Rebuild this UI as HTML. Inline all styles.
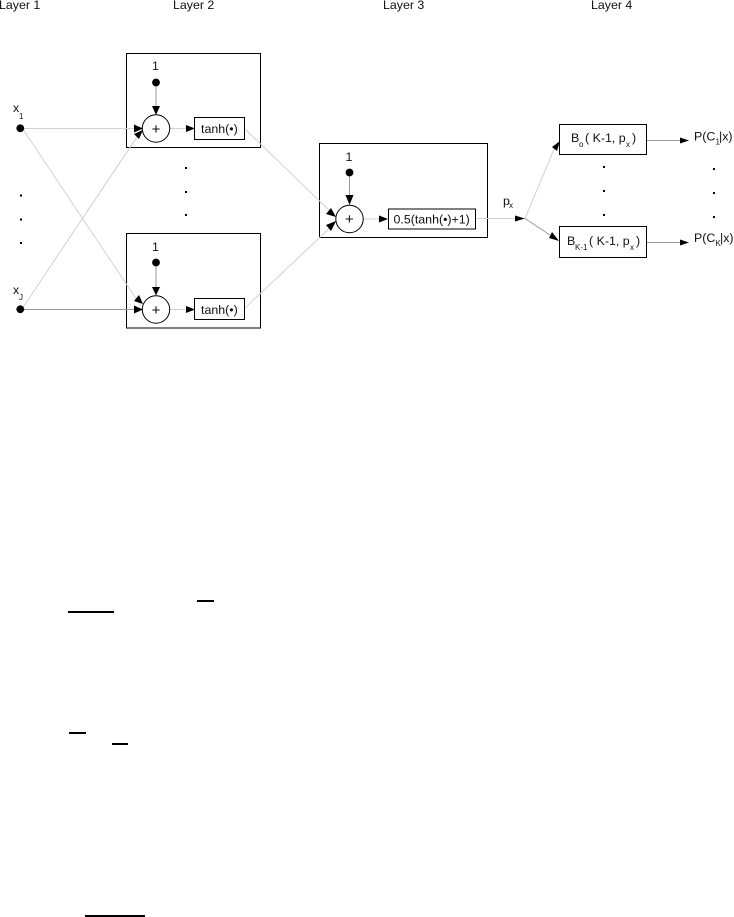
<!DOCTYPE html>
<html><head><meta charset="utf-8"><style>
html,body{margin:0;padding:0;background:#fff}
svg{display:block}
text{font-family:"Liberation Sans",sans-serif;font-size:12.4px;fill:#111}
.s{font-size:8px}
.p{font-size:15px}
.g{stroke:#d2d2d2;stroke-width:1;fill:none}
.d{stroke:#999;stroke-width:1;fill:none}
.b{stroke:#000;stroke-width:1;fill:#fff}
</style></head><body>
<svg width="734" height="917" viewBox="0 0 734 917" xmlns="http://www.w3.org/2000/svg">
<text x="-1" y="9">Layer 1</text><text x="173" y="9">Layer 2</text><text x="383" y="9">Layer 3</text><text x="591" y="9">Layer 4</text>

<rect class="b" x="126.5" y="53.5" width="134" height="94"/>
<rect class="b" x="126.5" y="233.5" width="134" height="94.5"/>
<rect class="b" x="319.5" y="143.5" width="168" height="94"/>

<path class="g" d="M20 128.5H135M22.5 128.5L141 306"/>
<path class="d" d="M20 309.5H135"/>
<path class="g" d="M22 309L143 128"/>
<path class="g" d="M170 128.5H186M170 309.5H186M364 219H380M476 218.5H515"/>
<path class="g" d="M245 129L332 213M245 308L332 226"/>
<path class="d" d="M156 83V108M156 263V289M349.5 172V196"/>
<path class="g" d="M525 218.5L555 147"/>
<path class="d" d="M525 218.5L550 235"/>
<path class="d" d="M647 140.5H680M647 242.5H680"/>

<g fill="#000">
<path d="M134 124.5L143 128.5L134 132.5Z"/>
<path d="M134 305.5L143 309.5L134 313.5Z"/>
<path d="M186 125L195 128.5L186 132Z"/>
<path d="M186 306L195 309.5L186 313Z"/>
<path d="M152 106L156 115L160 106Z"/>
<path d="M152 287L156 295.5L160 287Z"/>
<path d="M345.5 195L349.5 205L353.5 195Z"/>
<path d="M379 215.5L388 219L379 222.5Z"/>
<path d="M515 215.5L525 218.5L515 221.5Z"/>
<path d="M680 137.5L689 140.5L680 143.5Z"/>
<path d="M680 239.5L689 242.5L680 245.5Z"/>
<path d="M143 130L134 134L139 139Z"/>
<path d="M143 304L134 301L139 295Z"/>
<path d="M336 217L326 214L331 208Z"/>
<path d="M336 221L326 225L331 231Z"/>
<path d="M560 141L552 147L557 151Z"/>
<path d="M559 241L549 238L552 232Z"/>
<circle cx="20.3" cy="128.3" r="3.9"/><circle cx="20.3" cy="309.3" r="3.9"/>
<circle cx="156" cy="82.5" r="3.9"/><circle cx="156" cy="262.5" r="3.9"/><circle cx="349.5" cy="172.5" r="3.9"/>
<g>
<rect x="20" y="194.5" width="2" height="2"/><rect x="20" y="218.5" width="2" height="2"/><rect x="20" y="242" width="2" height="2"/>
<rect x="185" y="167" width="2" height="2"/><rect x="185" y="191" width="2" height="2"/><rect x="185" y="214" width="2" height="2"/>
<rect x="603" y="166" width="2" height="2"/><rect x="603" y="190" width="2" height="2"/><rect x="603" y="214" width="2" height="2"/>
<rect x="713" y="168" width="2" height="2"/><rect x="713" y="192" width="2" height="2"/><rect x="713" y="216" width="2" height="2"/>
</g>
<rect x="68" y="611" width="46" height="2"/><rect x="197" y="600" width="17" height="2"/>
<rect x="69" y="732" width="17" height="2"/><rect x="112" y="743" width="16" height="2"/>
<rect x="85" y="915" width="60" height="2"/>
</g>

<circle class="b" cx="156" cy="128.5" r="13.7"/><circle class="b" cx="156" cy="309.5" r="13.7"/><circle class="b" cx="349.5" cy="219" r="13.7"/>
<rect class="b" x="194.5" y="117.5" width="50" height="22"/>
<rect class="b" x="194.5" y="298.5" width="50" height="21"/>
<rect class="b" x="388.5" y="209" width="87" height="20"/>
<rect class="b" x="559.5" y="124.5" width="87" height="30"/>
<rect class="b" x="559.5" y="226.5" width="87" height="31"/>

<text x="152" y="70">1</text><text x="152" y="251">1</text><text x="345.5" y="161">1</text>
<text class="p" x="151.6" y="134">+</text><text class="p" x="151.6" y="315">+</text><text class="p" x="345" y="224">+</text>
<text x="201" y="133">tanh(•)</text><text x="201" y="314">tanh(•)</text>
<text x="393.5" y="223.5">0.5(tanh(•)+1)</text>
<text x="13" y="112">x</text><text class="s" x="19" y="119">1</text>
<text x="13" y="294">x</text><text class="s" x="19" y="300">J</text>
<text x="503" y="205">p</text><text class="s" x="509" y="208">x</text>
<text x="571" y="142">B</text><text class="s" x="579" y="147">o</text><text x="585" y="142">( K-1, p</text><text class="s" x="626" y="147">x</text><text x="632" y="142">)</text>
<text x="567" y="245">B</text><text class="s" x="575" y="250">K-1</text><text x="589" y="245">( K-1, p</text><text class="s" x="630" y="250">x</text><text x="636" y="245">)</text>
<text x="694" y="140.5">P(C</text><text class="s" x="715.5" y="144.5">1</text><text x="719" y="140.5">|x)</text>
<text x="694" y="242">P(C</text><text class="s" x="715.5" y="246">K</text><text x="720" y="242">|x)</text>
</svg>
</body></html>
